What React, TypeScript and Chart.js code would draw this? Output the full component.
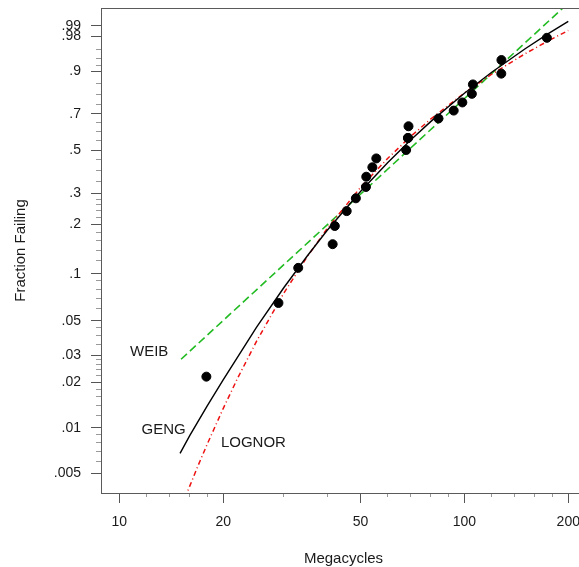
import React, { useEffect, useRef } from "react";
import { Chart, Scale, registerables } from "chart.js";

// ---------- data ----------
const cycles = [17.88, 28.92, 33.0, 41.52, 42.12, 45.6, 48.48, 51.84, 51.96, 54.12, 55.56, 67.8, 68.64, 68.64, 68.88, 84.12, 93.12, 98.64, 105.12, 105.84, 127.92, 128.04, 173.4];
const fractionFailing = [0.0217, 0.0652, 0.1087, 0.1522, 0.1957, 0.2391, 0.2826, 0.3261, 0.3696, 0.413, 0.4565, 0.5, 0.5652, 0.5652, 0.6304, 0.6739, 0.7174, 0.7609, 0.8043, 0.8478, 0.8913, 0.9348, 0.9783];

const gengX = [15, 16, 18, 20, 25, 30, 35, 40, 50, 60, 70, 80, 100, 120, 150, 175, 200];
const gengF = [0.0068, 0.0089, 0.014, 0.0207, 0.0456, 0.0818, 0.1284, 0.1841, 0.308, 0.4366, 0.5559, 0.6578, 0.8074, 0.8963, 0.961, 0.9831, 0.9927];

const lognorX = [15.5, 16, 17, 18, 20, 22, 25, 30, 35, 40, 50, 60, 70, 80, 100, 120, 150, 175, 200];
const lognorF = [0.00345, 0.00413, 0.00579, 0.00785, 0.0134, 0.0211, 0.037, 0.0755, 0.127, 0.1884, 0.3242, 0.4574, 0.575, 0.6718, 0.8087, 0.8891, 0.9505, 0.9742, 0.9862];

const weibX = [15.1, 200];
const weibF = [0.0282, 0.9985];

const curveLabels = ["WEIB", "GENG", "LOGNOR"];
const curveLabelX = [10.74, 11.6, 19.7];
const curveLabelF = [0.0315, 0.00969, 0.00793];

const xMajorTicks = [10, 20, 50, 100, 200];
const xMinorTicks = [12, 14, 16, 18, 30, 40, 60, 70, 80, 90, 120, 140, 160, 180];
const xRange = [8.852, 225.1];

const yMajorTicks = [0.005, 0.01, 0.02, 0.03, 0.05, 0.1, 0.2, 0.3, 0.5, 0.7, 0.9, 0.98, 0.99];
const yMajorLabels = [".005", ".01", ".02", ".03", ".05", ".1", ".2", ".3", ".5", ".7", ".9", ".98", ".99"];
const yMinorTicks = [0.006, 0.007, 0.008, 0.009, 0.012, 0.014, 0.016, 0.018, 0.022, 0.024, 0.026, 0.028, 0.035, 0.04, 0.045, 0.06, 0.07, 0.08, 0.09, 0.12, 0.14, 0.16, 0.18, 0.22, 0.24, 0.26, 0.28, 0.35, 0.4, 0.45, 0.55, 0.6, 0.65, 0.75, 0.8, 0.85, 0.92, 0.94, 0.96];
const yRange = [0.00372, 0.9976];

// ---------- Weibull probability scale ----------
const wT = (f: number) => Math.log(-Math.log(1 - f));
const wInv = (w: number) => 1 - Math.exp(-Math.exp(w));

class WeibullScale extends Scale {
  static id = "weibull";
  static defaults = {};
  _sv: number = 0;
  _vr: number = 1;
  determineDataLimits() {
    const o: any = this.options;
    (this as any).min = o.min;
    (this as any).max = o.max;
  }
  buildTicks() {
    const all = [...yMajorTicks, ...yMinorTicks].sort((a, b) => a - b);
    return all.map((v) => ({ value: v })) as any;
  }
  configure() {
    super.configure();
    this._sv = wT((this as any).min);
    this._vr = wT((this as any).max) - this._sv;
  }
  getLabelForValue(v: number) {
    return String(v);
  }
  getPixelForValue(v: number) {
    return this.getPixelForDecimal((wT(v) - this._sv) / this._vr);
  }
  getValueForPixel(p: number) {
    return wInv(this._sv + this.getDecimalForPixel(p) * this._vr);
  }
}

Chart.register(...registerables, WeibullScale as any);

const FONT = '"Liberation Sans", Arial, sans-serif';
const TEXT = "#1a1a1a";

const near = (a: number, b: number) => Math.abs(a - b) < 1e-9;
const isXMajor = (v: number) => xMajorTicks.some((m) => near(m, v));
const yMajorIndex = (v: number) => yMajorTicks.findIndex((m) => near(m, v));

const framePlugin = {
  id: "frame",
  afterDatasetsDraw(chart: any) {
    const { ctx, chartArea: a } = chart;
    ctx.save();
    ctx.strokeStyle = "#5a5a5a";
    ctx.lineWidth = 1;
    ctx.strokeRect(a.left + 0.5, a.top + 0.5, a.right - a.left, a.bottom - a.top);
    ctx.restore();
  },
};

const labelPlugin = {
  id: "curveLabels",
  afterDatasetsDraw(chart: any) {
    const { ctx } = chart;
    const xs = chart.scales.x;
    const ys = chart.scales.y;
    ctx.save();
    ctx.font = `15px ${FONT}`;
    ctx.fillStyle = TEXT;
    ctx.textAlign = "left";
    ctx.textBaseline = "middle";
    curveLabels.forEach((t, i) => {
      ctx.fillText(t, xs.getPixelForValue(curveLabelX[i]), ys.getPixelForValue(curveLabelF[i]));
    });
    ctx.restore();
  },
};

export default function App() {
  const ref = useRef<HTMLCanvasElement>(null);
  useEffect(() => {
    if (!ref.current) return;
    const pts = (xs: number[], fs: number[]) => xs.map((x, i) => ({ x, y: fs[i] }));
    const chart = new Chart(ref.current, {
      type: "scatter",
      data: {
        datasets: [
          {
            label: "data",
            data: pts(cycles, fractionFailing),
            showLine: false,
            pointRadius: 4.5,
            pointBorderWidth: 1,
            backgroundColor: "#000",
            borderColor: "#000",
            order: 0,
          },
          {
            label: "GENG",
            data: pts(gengX, gengF),
            showLine: true,
            pointRadius: 0,
            borderColor: "#000",
            borderWidth: 1.4,
            order: 1,
          },
          {
            label: "LOGNOR",
            data: pts(lognorX, lognorF),
            showLine: true,
            pointRadius: 0,
            borderColor: "#ee1111",
            borderWidth: 1.5,
            borderDash: [5, 3, 1, 3],
            order: 2,
          },
          {
            label: "WEIB",
            data: pts(weibX, weibF),
            showLine: true,
            pointRadius: 0,
            borderColor: "#22bb22",
            borderWidth: 1.6,
            borderDash: [8, 4],
            order: 3,
          },
        ] as any,
      },
      options: {
        animation: false,
        responsive: false,
        devicePixelRatio: 1,
        layout: { padding: { left: 0, top: 8, right: 10, bottom: 0 } },
        plugins: { legend: { display: false }, tooltip: { enabled: false } },
        scales: {
          x: {
            type: "logarithmic",
            position: "bottom",
            min: xRange[0],
            max: xRange[1],
            bounds: "data",
            afterBuildTicks: (s: any) => {
              s.ticks = [...xMajorTicks, ...xMinorTicks].sort((a, b) => a - b).map((v) => ({ value: v }));
            },
            afterFit: (s: any) => {
              s.height = 74;
              s.paddingLeft = 0;
              s.paddingRight = 0;
            },
            border: { display: false },
            grid: {
              drawOnChartArea: false,
              drawTicks: true,
              tickLength: 10,
              tickWidth: 1,
              tickColor: (c: any) => (isXMajor(c.tick?.value) ? "#555" : "#999"),
              tickBorderDash: (c: any) => (isXMajor(c.tick?.value) ? [] : [4, 20]),
            },
            ticks: {
              autoSkip: false,
              maxRotation: 0,
              padding: 11,
              color: TEXT,
              font: { family: FONT, size: 14 },
              callback: (v: any) => (isXMajor(Number(v)) ? String(Number(v)) : ""),
            },
            title: {
              display: true,
              text: "Megacycles",
              color: TEXT,
              font: { family: FONT, size: 15 },
              padding: { top: 0, bottom: -1 },
            },
          } as any,
          y: {
            type: "weibull",
            position: "left",
            min: yRange[0],
            max: yRange[1],
            afterFit: (s: any) => {
              s.width = 101;
              s.paddingTop = 0;
              s.paddingBottom = 0;
            },
            border: { display: false },
            grid: {
              drawOnChartArea: false,
              drawTicks: true,
              tickLength: 10,
              tickWidth: 1,
              tickColor: (c: any) => (yMajorIndex(c.tick?.value) >= 0 ? "#555" : "#999"),
              tickBorderDash: (c: any) => (yMajorIndex(c.tick?.value) >= 0 ? [] : [5, 5]),
              tickBorderDashOffset: (c: any) => (yMajorIndex(c.tick?.value) >= 0 ? 0 : 5),
            },
            ticks: {
              autoSkip: false,
              padding: 10,
              color: TEXT,
              font: { family: FONT, size: 14 },
              callback: (v: any) => {
                const i = yMajorIndex(Number(v));
                return i >= 0 ? yMajorLabels[i] : "";
              },
            },
            title: {
              display: true,
              text: "Fraction Failing",
              color: TEXT,
              font: { family: FONT, size: 15 },
              padding: { top: 12, bottom: 0 },
            },
          } as any,
        },
      },
      plugins: [framePlugin, labelPlugin],
    } as any);
    return () => chart.destroy();
  }, []);

  return (
    <div style={{ position: "absolute", left: 0, top: 0, width: 579, height: 567, overflow: "hidden", background: "#fff" }}>
      <canvas ref={ref} width={596} height={567} style={{ display: "block" }} />
    </div>
  );
}
